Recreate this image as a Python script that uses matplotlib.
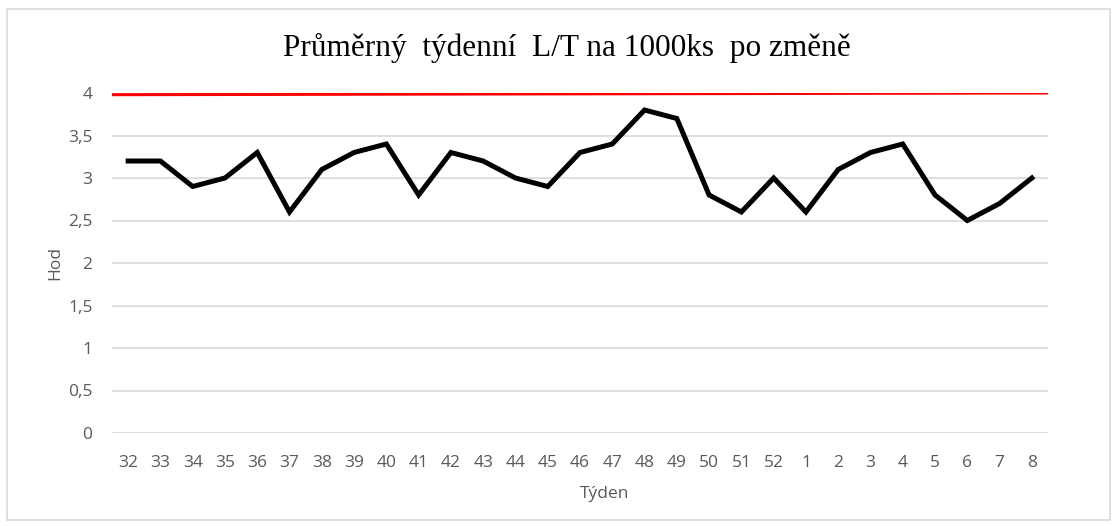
import matplotlib.pyplot as plt
from matplotlib.patches import Rectangle
from matplotlib.ticker import FuncFormatter

# Data
weeks = ['32', '33', '34', '35', '36', '37', '38', '39', '40', '41', '42', '43',
         '44', '45', '46', '47', '48', '49', '50', '51', '52', '1', '2', '3',
         '4', '5', '6', '7', '8']
lt_hours = [3.2, 3.2, 2.9, 3.0, 3.3, 2.6, 3.1, 3.3, 3.4, 2.8, 3.3, 3.2,
            3.0, 2.9, 3.3, 3.4, 3.8, 3.7, 2.8, 2.6, 3.0, 2.6, 3.1, 3.3,
            3.4, 2.8, 2.5, 2.7, 3.0]
limit = [3.98, 4.0]  # red limit line, left and right end

fig = plt.figure(figsize=(11.17, 5.26), dpi=100, facecolor='white')
ax = fig.add_axes([112 / 1117, 1 - 433 / 526, 936 / 1117, 340 / 526])

x = list(range(len(weeks)))
ax.plot(x, lt_hours, color='black', linewidth=3.6, solid_joinstyle='miter', zorder=3)

# limit line across the whole plot width
ax.plot([-0.5, len(weeks) - 0.5], limit, color='#ff0000', linewidth=2.2, zorder=2)

ax.set_xlim(-0.5, len(weeks) - 0.5)
ax.set_ylim(0, 4)
ax.set_yticks([0, 0.5, 1, 1.5, 2, 2.5, 3, 3.5, 4])
ax.yaxis.set_major_formatter(FuncFormatter(lambda v, p: ('%g' % v).replace('.', ',')))
ax.set_xticks(x)
ax.set_xticklabels(weeks)

ax.grid(axis='y', color='#d9d9d9', linewidth=1.2)
ax.set_axisbelow(True)
for s in ax.spines.values():
    s.set_visible(False)
ax.tick_params(length=0, labelsize=12.5, colors='#595959')
ax.tick_params(axis='x', pad=16)
ax.tick_params(axis='y', pad=14)
for lab in ax.get_xticklabels() + ax.get_yticklabels():
    lab.set_fontfamily('Open Sans')

# Titles and labels
fig.text(567 / 1117, 1 - 48 / 526, 'Průměrný  týdenní  L/T na 1000ks  po změně',
         ha='center', va='center', fontsize=22.5, family='Liberation Serif', color='black')
fig.text(55 / 1117, 1 - 263 / 526, 'Hod', rotation=90, ha='center', va='center',
         fontsize=12.5, family='Open Sans', color='#595959')
fig.text(605 / 1117, 1 - 494 / 526, 'Týden', ha='center', va='center',
         fontsize=12.5, family='Open Sans', color='#595959')

# chart border
fig.patches.append(Rectangle((7 / 1117, 6 / 526), 1103 / 1117, 511 / 526,
                             transform=fig.transFigure, fill=False,
                             edgecolor='#d9d9d9', linewidth=1.2))

plt.savefig('out.png', dpi=100, facecolor='white')
plt.close()
